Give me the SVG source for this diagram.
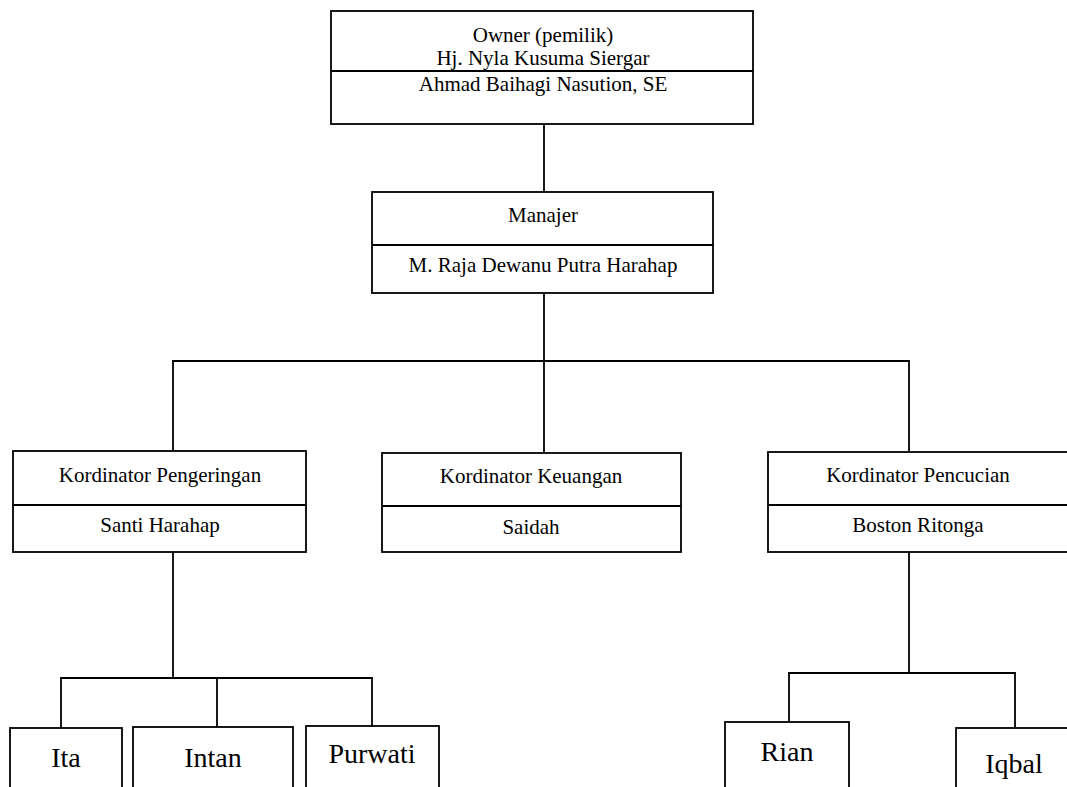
<svg xmlns="http://www.w3.org/2000/svg" width="1067" height="787" viewBox="0 0 1067 787">
<style>
.box{fill:#fff;stroke:#000;stroke-width:1.8}
.div{stroke:#000;stroke-width:1.8}
.con{fill:none;stroke:#000;stroke-width:1.8}
text{font-family:"Liberation Serif","Times New Roman",serif;fill:#000;text-anchor:middle}
.t{font-size:21px}
.big{font-size:28px}
</style>
<rect width="1067" height="787" fill="#fff"/>
<g id="connectors">
<line class="con" x1="544" y1="124" x2="544" y2="192"/>
<line class="con" x1="544" y1="293" x2="544" y2="453"/>
<polyline class="con" points="173,451 173,361 909,361 909,452"/>
<polyline class="con" points="173,552 173,678"/>
<polyline class="con" points="61,728 61,678 372,678 372,726"/>
<line class="con" x1="217" y1="678" x2="217" y2="727"/>
<line class="con" x1="909" y1="552" x2="909" y2="673"/>
<polyline class="con" points="789,722 789,673 1015,673 1015,728"/>
</g>
<g id="owner">
<rect class="box" x="331" y="11" width="422" height="113"/>
<line class="div" x1="331" y1="71" x2="753" y2="71"/>
<text class="t" x="543" y="42">Owner (pemilik)</text>
<text class="t" x="543" y="65">Hj. Nyla Kusuma Siergar</text>
<text class="t" x="543" y="91">Ahmad Baihagi Nasution, SE</text>
</g>
<g id="manajer">
<rect class="box" x="372" y="192" width="341" height="101"/>
<line class="div" x1="372" y1="245" x2="713" y2="245"/>
<text class="t" x="543" y="222">Manajer</text>
<text class="t" x="543" y="272">M. Raja Dewanu Putra Harahap</text>
</g>
<g id="pengeringan">
<rect class="box" x="13" y="451" width="293" height="101"/>
<line class="div" x1="13" y1="505" x2="306" y2="505"/>
<text class="t" x="160" y="482">Kordinator Pengeringan</text>
<text class="t" x="160" y="532">Santi Harahap</text>
</g>
<g id="keuangan">
<rect class="box" x="382" y="453" width="299" height="99"/>
<line class="div" x1="382" y1="506" x2="681" y2="506"/>
<text class="t" x="531" y="483">Kordinator Keuangan</text>
<text class="t" x="531" y="534">Saidah</text>
</g>
<g id="pencucian">
<rect class="box" x="768" y="452" width="302" height="100"/>
<line class="div" x1="768" y1="505" x2="1070" y2="505"/>
<text class="t" x="918" y="482">Kordinator Pencucian</text>
<text class="t" x="918" y="532">Boston Ritonga</text>
</g>
<g id="ita">
<rect class="box" x="10" y="728" width="112" height="80"/>
<text class="big" x="66" y="767">Ita</text>
</g>
<g id="intan">
<rect class="box" x="133" y="727" width="160" height="80"/>
<text class="big" x="213" y="767">Intan</text>
</g>
<g id="purwati">
<rect class="box" x="306" y="726" width="133" height="80"/>
<text class="big" x="372" y="763">Purwati</text>
</g>
<g id="rian">
<rect class="box" x="725" y="722" width="124" height="80"/>
<text class="big" x="787" y="761">Rian</text>
</g>
<g id="iqbal">
<rect class="box" x="956" y="728" width="120" height="80"/>
<text class="big" x="1014" y="773">Iqbal</text>
</g>
</svg>
